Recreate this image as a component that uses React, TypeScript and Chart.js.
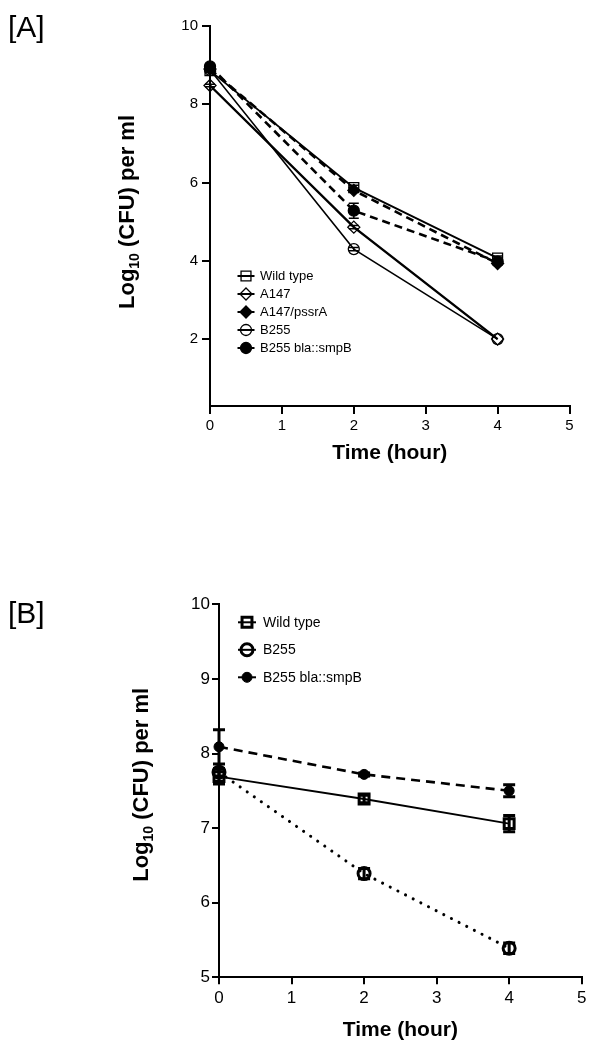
import React, { useEffect, useRef } from "react";
import { Chart, registerables } from "chart.js";

Chart.register(...registerables);

const FONT = "'Liberation Sans', Arial, Helvetica, sans-serif";

// ---------- shared ----------
const timeHours = [0, 2, 4];
const xTickValues = [0, 1, 2, 3, 4, 5];

// ---------- panel A ----------
const aYTicks = [2, 4, 6, 8, 10];
const aLabels = ["Wild type", "A147", "A147/pssrA", "B255", "B255 bla::smpB"];
const aWildType = [8.86, 5.87, 4.07];
const aWildTypeErr = [0.05, 0.06, 0.05];
const aA147 = [8.48, 4.86, 2.0];
const aA147Err = [0.03, 0.04, 0];
const aA147pssrA = [8.9, 5.8, 3.93];
const aA147pssrAErr = [0.04, 0.05, 0.04];
const aB255 = [8.88, 4.3, 2.0];
const aB255Err = [0.03, 0.04, 0];
const aB255smpB = [8.97, 5.28, 3.98];
const aB255smpBErr = [0.05, 0.19, 0.05];

// ---------- panel B ----------
const bYTicks = [5, 6, 7, 8, 9, 10];
const bLabels = ["Wild type", "B255", "B255 bla::smpB"];
const bWildType = [7.69, 7.39, 7.06];
const bWildTypeErr = [0.1, 0.05, 0.11];
const bB255 = [7.75, 6.39, 5.39];
const bB255Err = [0.05, 0.07, 0.07];
const bB255smpB = [8.09, 7.72, 7.5];
const bB255smpBErr = [0.23, 0.02, 0.08];

const xTitle = "Time (hour)";
const yTitleParts = ["Log", "10", " (CFU) per ml"];

type Marker = "rect" | "rectRot" | "circle";

function toPoints(vals: number[]) {
  return timeHours.map((t, i) => ({ x: t, y: vals[i] }));
}

function drawMarker(ctx: CanvasRenderingContext2D, style: Marker, x: number, y: number, r: number, fill: string, bw: number) {
  ctx.save();
  ctx.beginPath();
  if (style === "rect") {
    const s = Math.SQRT1_2 * r;
    ctx.rect(x - s, y - s, 2 * s, 2 * s);
  } else if (style === "rectRot") {
    ctx.moveTo(x, y - r);
    ctx.lineTo(x + r, y);
    ctx.lineTo(x, y + r);
    ctx.lineTo(x - r, y);
    ctx.closePath();
  } else {
    ctx.arc(x, y, r, 0, Math.PI * 2);
  }
  ctx.fillStyle = fill;
  ctx.fill();
  ctx.lineWidth = bw;
  ctx.strokeStyle = "#000";
  ctx.stroke();
  ctx.restore();
}

const errorBarPlugin = {
  id: "errorBars",
  afterDatasetsDraw(chart: any, _args: any, opts: any) {
    const ctx = chart.ctx;
    const ys = chart.scales.y;
    chart.data.datasets.forEach((ds: any, i: number) => {
      const meta = chart.getDatasetMeta(i);
      const errs: number[] = ds.errorBars || [];
      meta.data.forEach((pt: any, j: number) => {
        const e = errs[j];
        if (!e) return;
        const v = ds.data[j].y;
        const yTop = ys.getPixelForValue(v + e);
        const yBot = ys.getPixelForValue(v - e);
        const x = pt.x;
        const cw = opts.capWidth / 2;
        ctx.save();
        ctx.strokeStyle = "#000";
        ctx.lineWidth = opts.lineWidth;
        ctx.beginPath();
        ctx.moveTo(x, yTop);
        ctx.lineTo(x, yBot);
        ctx.moveTo(x - cw, yTop);
        ctx.lineTo(x + cw, yTop);
        ctx.moveTo(x - cw, yBot);
        ctx.lineTo(x + cw, yBot);
        ctx.stroke();
        ctx.restore();
      });
    });
  },
};

const customLegendPlugin = {
  id: "customLegend",
  afterDraw(chart: any, _args: any, opts: any) {
    const ctx = chart.ctx;
    const area = chart.chartArea;
    const cx = area.left + opts.dx;
    let y = area.top + opts.dy;
    chart.data.datasets.forEach((ds: any) => {
      ctx.save();
      ctx.strokeStyle = "#000";
      ctx.lineWidth = opts.lineWidth;
      ctx.beginPath();
      ctx.moveTo(cx - opts.lineLen / 2, y);
      ctx.lineTo(cx + opts.lineLen / 2, y);
      ctx.stroke();
      ctx.restore();
      drawMarker(ctx, ds.pointStyle, cx, y, ds.pointRadius, ds.pointBackgroundColor, ds.pointBorderWidth);
      ctx.save();
      ctx.fillStyle = "#000";
      ctx.font = `${opts.fontSize}px ${FONT}`;
      ctx.textBaseline = "middle";
      ctx.textAlign = "left";
      ctx.fillText(ds.label, cx + opts.textOffset, y + 0.5);
      ctx.restore();
      y += opts.rowGap;
    });
  },
};

const titlesPlugin = {
  id: "axisTitles",
  afterDraw(chart: any, _args: any, opts: any) {
    const ctx = chart.ctx;
    const area = chart.chartArea;
    ctx.save();
    ctx.fillStyle = "#000";
    // x title
    ctx.font = `bold ${opts.xSize}px ${FONT}`;
    ctx.textAlign = "center";
    ctx.textBaseline = "middle";
    ctx.fillText(xTitle, (area.left + area.right) / 2, area.bottom + opts.xOffset);
    // y title with subscript
    const big = `bold ${opts.ySize}px ${FONT}`;
    const small = `bold ${Math.round(opts.ySize * 0.65)}px ${FONT}`;
    ctx.font = big;
    const w0 = ctx.measureText(yTitleParts[0]).width;
    const w2 = ctx.measureText(yTitleParts[2]).width;
    ctx.font = small;
    const w1 = ctx.measureText(yTitleParts[1]).width;
    const total = w0 + w1 + w2;
    ctx.translate(area.left - opts.yOffset, (area.top + area.bottom) / 2 + opts.yShift);
    ctx.rotate(-Math.PI / 2);
    ctx.textAlign = "left";
    ctx.textBaseline = "alphabetic";
    const base = opts.ySize * 0.36;
    let x = -total / 2;
    ctx.font = big;
    ctx.fillText(yTitleParts[0], x, base);
    x += w0;
    ctx.font = small;
    ctx.fillText(yTitleParts[1], x, base + opts.ySize * 0.22);
    x += w1;
    ctx.font = big;
    ctx.fillText(yTitleParts[2], x, base);
    // panel label
    ctx.restore();
    ctx.save();
    ctx.fillStyle = "#000";
    ctx.font = `${opts.panelSize}px ${FONT}`;
    ctx.textAlign = "left";
    ctx.textBaseline = "alphabetic";
    ctx.fillText(opts.panel, opts.panelX, opts.panelY);
    ctx.restore();
  },
};

function makeDataset(label: string, vals: number[], errs: number[], style: Marker, filled: boolean, r: number, bw: number, lw: number, dash: number[], cap: CanvasLineCap = "butt") {
  return {
    label,
    data: toPoints(vals),
    errorBars: errs,
    borderColor: "#000",
    borderWidth: lw,
    borderDash: dash,
    borderCapStyle: cap,
    pointStyle: style,
    pointRadius: r,
    pointBorderWidth: bw,
    pointBorderColor: "#000",
    pointBackgroundColor: filled ? "#000" : "rgba(255,255,255,0)",
    fill: false,
    tension: 0,
    clip: false,
  };
}

function axisOptions(p: any) {
  return {
    x: {
      type: "linear",
      min: 0,
      max: 5,
      afterBuildTicks: (s: any) => {
        s.ticks = xTickValues.map((v) => ({ value: v }));
      },
      afterFit: (s: any) => {
        s.height = p.xAxisH;
      },
      border: { display: true, color: "#000", width: 2 },
      grid: { drawOnChartArea: false, drawTicks: true, tickLength: p.tickLen, color: "#000", lineWidth: 2 },
      ticks: { color: "#000", font: { family: FONT, size: p.tickSize }, padding: p.xPad, maxRotation: 0, autoSkip: false },
    },
    y: {
      type: "linear",
      min: p.yMin,
      max: p.yMax,
      afterBuildTicks: (s: any) => {
        s.ticks = p.yTicks.map((v: number) => ({ value: v }));
      },
      afterFit: (s: any) => {
        s.width = p.yAxisW;
      },
      border: { display: true, color: "#000", width: 2 },
      grid: { drawOnChartArea: false, drawTicks: true, tickLength: p.tickLen, color: "#000", lineWidth: 2 },
      ticks: { color: "#000", font: { family: FONT, size: p.tickSize }, padding: p.yPad, autoSkip: false },
    },
  };
}

function useChart(ref: React.RefObject<HTMLCanvasElement>, build: () => any) {
  useEffect(() => {
    if (!ref.current) return;
    const chart = new Chart(ref.current, build());
    return () => chart.destroy();
  }, []);
}

export default function App() {
  const refA = useRef<HTMLCanvasElement>(null);
  const refB = useRef<HTMLCanvasElement>(null);

  useChart(refA, () => ({
    type: "line",
    data: {
      datasets: [
        makeDataset(aLabels[0], aWildType, aWildTypeErr, "rect", false, 7, 1.3, 1.8, []),
        makeDataset(aLabels[1], aA147, aA147Err, "rectRot", false, 6, 1.3, 2.4, []),
        makeDataset(aLabels[2], aA147pssrA, aA147pssrAErr, "rectRot", true, 6, 1.3, 2.6, [8, 5]),
        makeDataset(aLabels[3], aB255, aB255Err, "circle", false, 5.5, 1.3, 1.5, []),
        makeDataset(aLabels[4], aB255smpB, aB255smpBErr, "circle", true, 5.5, 1.3, 2.6, [8, 5]),
      ],
    },
    options: {
      responsive: false,
      maintainAspectRatio: false,
      animation: false,
      events: [],
      layout: { padding: { left: 0, top: 26, right: 25.5, bottom: 0 } },
      scales: axisOptions({
        xAxisH: 119,
        yAxisW: 210,
        yMin: 0.29,
        yMax: 10,
        yTicks: aYTicks,
        tickLen: 8,
        tickSize: 15,
        xPad: 3,
        yPad: 4,
      }),
      plugins: {
        legend: { display: false },
        tooltip: { enabled: false },
        errorBars: { capWidth: 10, lineWidth: 1.5 },
        customLegend: { dx: 36, dy: 250, rowGap: 18, lineLen: 17, lineWidth: 2, textOffset: 14, fontSize: 13 },
        axisTitles: { xSize: 21, xOffset: 47, ySize: 22, yOffset: 84, yShift: -4, panel: "[A]", panelSize: 30, panelX: 8, panelY: 37 },
      },
    },
    plugins: [errorBarPlugin, customLegendPlugin, titlesPlugin],
  }));

  useChart(refB, () => ({
    type: "line",
    data: {
      datasets: [
        makeDataset(bLabels[0], bWildType, bWildTypeErr, "rect", false, 7, 3, 2, []),
        makeDataset(bLabels[1], bB255, bB255Err, "circle", false, 6, 3, 3, [0.1, 8.5], "round"),
        makeDataset(bLabels[2], bB255smpB, bB255smpBErr, "circle", true, 5, 1, 2.6, [9, 6]),
      ],
    },
    options: {
      responsive: false,
      maintainAspectRatio: false,
      animation: false,
      events: [],
      layout: { padding: { left: 0, top: 79.3, right: 13.3, bottom: 0 } },
      scales: axisOptions({
        xAxisH: 525 - 452.3,
        yAxisW: 219,
        yMin: 5,
        yMax: 10,
        yTicks: bYTicks,
        tickLen: 7,
        tickSize: 17,
        xPad: 4,
        yPad: 2,
      }),
      plugins: {
        legend: { display: false },
        tooltip: { enabled: false },
        errorBars: { capWidth: 12, lineWidth: 3 },
        customLegend: { dx: 28, dy: 18, rowGap: 27.5, lineLen: 18, lineWidth: 2, textOffset: 16, fontSize: 14 },
        axisTitles: { xSize: 21, xOffset: 53, ySize: 22, yOffset: 79, yShift: -6, panel: "[B]", panelSize: 30, panelX: 8, panelY: 98 },
      },
    },
    plugins: [errorBarPlugin, customLegendPlugin, titlesPlugin],
  }));

  return (
    <div style={{ position: "absolute", left: 0, top: 0, width: 595, height: 1050, background: "#fff" }}>
      <canvas ref={refA} width={595} height={525} style={{ position: "absolute", left: 0, top: 0, width: 595, height: 525 }} />
      <canvas ref={refB} width={595} height={525} style={{ position: "absolute", left: 0, top: 525, width: 595, height: 525 }} />
    </div>
  );
}
